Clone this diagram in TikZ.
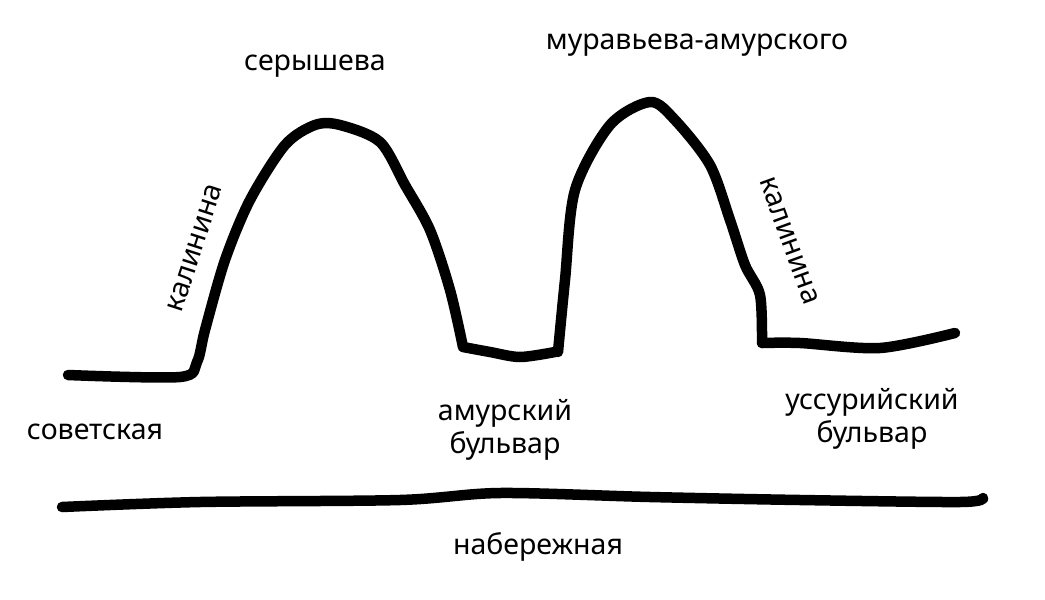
\documentclass[tikz,border=0pt]{standalone}
\usepackage{fontspec}
\setmainfont{Noto Sans}
\begin{document}
\begin{tikzpicture}[x=1pt,y=-1pt,
  street/.style={line width=10.5pt,line cap=round,line join=round},
  lbl/.style={font=\fontsize{28.5}{33}\selectfont,align=center,inner sep=0pt}]
\useasboundingbox (0,0) rectangle (1045,600);
\draw[street] plot[smooth,tension=0.5] coordinates {(68,375) (180,377) (197,362) (205,330) (225,260) (250,200) (285,145) (315,125) (340,125) (380,142) (405,185) (430,230) (450,290) (463,347)};
\draw[street] plot[smooth,tension=0.5] coordinates {(463,347) (490,352) (520,357) (555,352)};
\draw[street] plot[smooth,tension=0.5] coordinates {(558,352) (565,280) (575,190) (610,125) (650,102) (675,120) (710,165) (730,220) (745,265) (760,295) (762,343)};
\draw[street] plot[smooth,tension=0.5] coordinates {(762,343) (800,343) (880,348) (955,333)};
\draw[street] plot[smooth,tension=0.5] coordinates {(62,507) (200,502) (400,500) (500,493) (650,497) (800,500) (960,502) (983,498)};
\node[lbl] (ser) at (315,66) {серышева};
\node[lbl] (mur) at (697,45) {муравьева-амурского};
\node[lbl,rotate=72] (kal1) at (195,248) {калинина};
\node[lbl,rotate=-70] (kal2) at (789,241) {калинина};
\node[lbl] (sov) at (95,432) {советская};
\node[lbl] (amb) at (505,430) {амурский\\бульвар};
\node[lbl] (usb) at (872,419) {уссурийский\\бульвар};
\node[lbl] (nab) at (538,547) {набережная};
\end{tikzpicture}
\end{document}
